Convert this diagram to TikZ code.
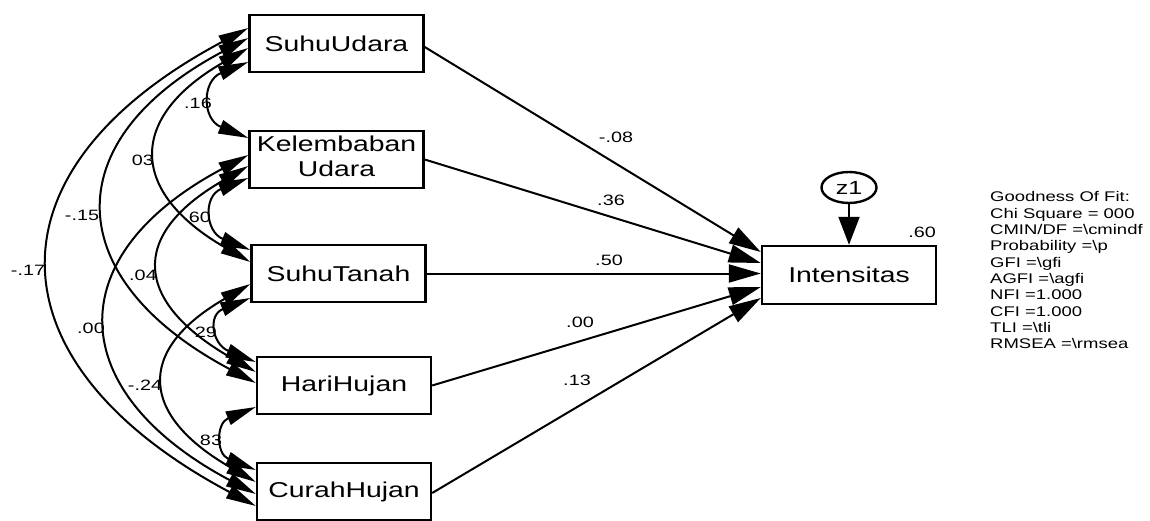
\documentclass[tikz,border=0pt]{standalone}
\usepackage{fontspec}
\setmainfont{Liberation Sans}
\usepackage{graphicx}
\usetikzlibrary{arrows.meta,shapes.geometric}
% all text in the diagram is set horizontally widened
\newcommand\wtxt[1]{\scalebox{1.32}[1]{#1}}
\begin{document}
\begin{tikzpicture}[x=1pt,y=1pt,
  var/.style={draw, line width=2.4pt, minimum width=174pt, minimum height=57pt,
              inner sep=0pt, font=\fontsize{21.5}{25}\selectfont},
  covar/.style={line width=2pt,
                {Triangle[length=30pt,width=14pt]}-{Triangle[length=30pt,width=14pt]}},
  regr/.style={line width=2pt, -{Triangle[length=32pt,width=18pt]}},
  coef/.style={font=\fontsize{15}{18}\selectfont, inner sep=0pt},
]
\useasboundingbox (0,0) rectangle (1150,520);

% observed variables
\node[var] (su) at (336.5,476.5) {\wtxt{SuhuUdara}};
\node[var] (ku) at (336.5,360.5) {\wtxt{\begin{tabular}{@{}c@{}}Kelembaban\\Udara\end{tabular}}};
\node[var] (st) at (338.5,246.5) {\wtxt{SuhuTanah}};
\node[var] (hh) at (344,134.5) {\wtxt{HariHujan}};
\node[var] (ch) at (344,28.5) {\wtxt{CurahHujan}};
\node[var, minimum height=58pt] (int) at (849,245) {\wtxt{Intensitas}};

% error term
\node[draw, ellipse, line width=2.4pt, minimum width=55pt, minimum height=31pt,
      inner sep=0pt, font=\fontsize{19}{22}\selectfont] (z1) at (849,332.5) {\wtxt{z1}};
\draw[line width=2pt, -{Triangle[length=28pt,width=21pt]}] (z1) -- (int);
\node[coef] (r2) at (922,288) {\wtxt{.60}};

% covariances between neighbouring variables
\draw[covar] ([yshift=-18.5pt]su.west) to[out=202,in=158,looseness=1.69] ([yshift=21.5pt]ku.west);
\draw[covar] ([yshift=-18.5pt]ku.west) to[out=202,in=158,looseness=1.73] ([yshift=23.5pt]st.west);
\draw[covar] ([yshift=-24.5pt]st.west) to[out=202,in=158,looseness=1.86] ([yshift=23.5pt]hh.west);
\draw[covar] ([yshift=-21.5pt]hh.west) to[out=202,in=158,looseness=1.75] ([yshift=21.5pt]ch.west);
% covariances two steps apart
\draw[covar] ([yshift=-4.5pt]su.west) to[out=210,in=150,looseness=1.67] ([yshift=11.5pt]st.west);
\draw[covar] ([yshift=-6.5pt]ku.west) to[out=210,in=150,looseness=1.73] ([yshift=13.5pt]hh.west);
\draw[covar] ([yshift=-10.5pt]st.west) to[out=210,in=150,looseness=1.72] ([yshift=9.5pt]ch.west);
% covariances three and four steps apart
\draw[covar] ([yshift=5.5pt]su.west) to[out=208,in=152,looseness=1.63] ([yshift=2.5pt]hh.west);
\draw[covar] ([yshift=4.5pt]ku.west) to[out=208,in=152,looseness=1.63] ([yshift=-2.5pt]ch.west);
\draw[covar] ([yshift=15.5pt]su.west) to[out=208,in=152,looseness=1.62] ([yshift=-14.5pt]ch.west);

% correlation values
\node[coef] (c1) at (198,417) {\wtxt{.16}};
\node[coef] (c2) at (143,360) {\wtxt{03}};
\node[coef] (c3) at (200,303) {\wtxt{60}};
\node[coef] (c4) at (82,305) {\wtxt{-.15}};
\node[coef] (c5) at (28,250) {\wtxt{-.17}};
\node[coef] (c6) at (143,245) {\wtxt{.04}};
\node[coef] (c7) at (91,192) {\wtxt{.00}};
\node[coef] (c8) at (206,188) {\wtxt{29}};
\node[coef] (c9) at (145,135) {\wtxt{-.24}};
\node[coef] (c10) at (211,80) {\wtxt{83}};

% regression paths
\draw[regr] ([yshift=-3.5pt]su.east) -- ([yshift=23pt]int.west);
\draw[regr] (ku.east) -- ([yshift=12pt]int.west);
\draw[regr] (st.east) -- ([yshift=1.5pt]int.west);
\draw[regr] (hh.east) -- ([yshift=-12pt]int.west);
\draw[regr] ([yshift=-1.5pt]ch.east) -- ([yshift=-23pt]int.west);

% regression weights
\node[coef] (b1) at (616,383) {\wtxt{-.08}};
\node[coef] (b2) at (611,320) {\wtxt{.36}};
\node[coef] (b3) at (609,260) {\wtxt{.50}};
\node[coef] (b4) at (580,198) {\wtxt{.00}};
\node[coef] (b5) at (577,140) {\wtxt{.13}};

% fit summary
\node[anchor=base west, inner sep=0pt, font=\fontsize{14}{16.3}\selectfont] (gof) at (990,318)
  {\wtxt{\begin{tabular}[t]{@{}l@{}}
  Goodness Of Fit:\\
  Chi Square = 000\\
  CMIN/DF =\textbackslash cmindf\\
  Probability =\textbackslash p\\
  GFI =\textbackslash gfi\\
  AGFI =\textbackslash agfi\\
  NFI =1.000\\
  CFI =1.000\\
  TLI =\textbackslash tli\\
  RMSEA =\textbackslash rmsea
  \end{tabular}}};
\end{tikzpicture}
\end{document}
